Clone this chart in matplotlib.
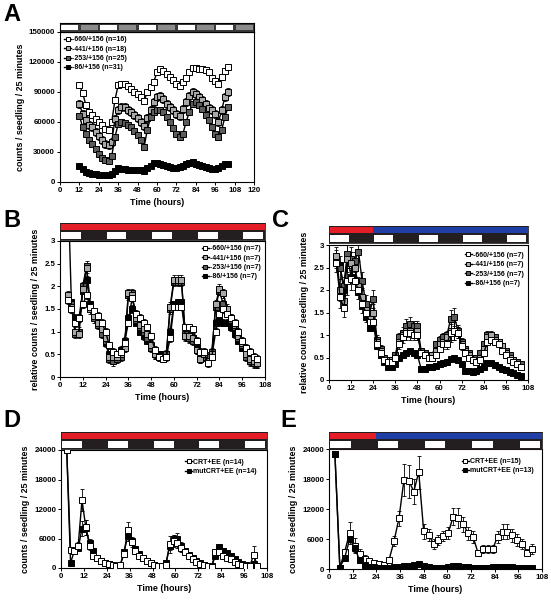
import numpy as np
import matplotlib
matplotlib.use("Agg")
import matplotlib.pyplot as plt
from matplotlib.patches import Rectangle
from matplotlib.ticker import FuncFormatter, MultipleLocator

plt.rcParams['font.family'] = ['Liberation Sans', 'DejaVu Sans']
plt.rcParams['font.weight'] = 'bold'

W, H = 551, 600

# ---------------- data ----------------
tA = np.arange(12, 105, 2)
A_660 = [97000, 89000, 77000, 70000, 67000, 63000, 60000, 57000, 53000, 52000,
         60000, 82000, 97000, 98000, 98000, 96000, 93000, 90000, 88000, 85000,
         81000, 90000, 95000, 100000, 110000, 113000, 111000, 108000, 105000, 102000,
         98000, 96000, 100000, 104000, 110000, 114000, 114000, 113000, 113000, 112000,
         110000, 104000, 101000, 98000, 105000, 111000, 115000]
A_441 = [78000, 68000, 62000, 57000, 55000, 50000, 46000, 42000, 38000, 37000,
         40000, 63000, 72000, 75000, 75000, 72000, 70000, 67000, 64000, 60000,
         56000, 64000, 72000, 80000, 85000, 86000, 83000, 78000, 75000, 72000,
         68000, 66000, 73000, 80000, 86000, 90000, 88000, 85000, 82000, 78000,
         74000, 72000, 68000, 60000, 72000, 85000, 90000]
A_253 = [66000, 55000, 48000, 42000, 38000, 33000, 28000, 24000, 22000, 21000,
         26000, 45000, 58000, 60000, 59000, 57000, 55000, 51000, 47000, 42000,
         35000, 52000, 65000, 70000, 72000, 72000, 70000, 65000, 60000, 54000,
         48000, 45000, 48000, 60000, 70000, 78000, 80000, 77000, 73000, 67000,
         62000, 55000, 48000, 45000, 52000, 65000, 75000]
A_86 = [16000, 13000, 10000, 9000, 8000, 8000, 7000, 7000, 7000, 7000,
        8000, 11000, 14000, 13000, 13000, 12000, 12000, 12000, 12000, 12000,
        11000, 14000, 16000, 19000, 19000, 18000, 17000, 16000, 15000, 14000,
        14000, 15000, 16000, 18000, 19000, 20000, 18000, 17000, 16000, 15000,
        14000, 13000, 13000, 14000, 16000, 18000, 18000]
A_err = [2500, 4000, 2500, 800]
A_labels = ['-660/+156 (n=16)', '-441/+156 (n=18)', '-253/+156 (n=25)', '-86/+156 (n=31)']

tB = np.arange(4, 105, 2)
B_660 = [1.7, 1.5, 1.2, 1.3, 1.6, 1.8, 1.55, 1.45, 1.35, 1.2,
         1.0, 0.7, 0.55, 0.5, 0.55, 0.75, 1.2, 1.75, 1.4, 1.3,
         1.2, 1.1, 0.9, 0.6, 0.45, 0.4, 0.45, 0.85, 1.55, 1.55,
         1.55, 1.1, 1.1, 1.05, 0.8, 0.55, 0.55, 0.3, 0.45, 1.0,
         1.4, 1.5, 1.4, 1.3, 1.2, 1.0, 0.8, 0.65, 0.55, 0.45, 0.4]
B_441 = [1.8, 1.55, 1.0, 0.95, 1.95, 2.4, 1.5, 1.35, 1.2, 1.05,
         0.85, 0.45, 0.45, 0.45, 0.5, 0.65, 1.85, 1.8, 1.3, 1.15,
         1.05, 0.95, 0.7, 0.5, 0.45, 0.45, 0.45, 1.55, 2.15, 2.15,
         2.15, 0.9, 0.9, 0.85, 0.6, 0.4, 0.5, 0.35, 0.5, 1.6,
         1.95, 1.85, 1.5, 1.3, 1.15, 0.9, 0.75, 0.5, 0.4, 0.35, 0.3]
B_253 = [1.75, 1.6, 0.95, 1.0, 2.0, 2.45, 1.55, 1.3, 1.15, 0.95,
         0.8, 0.4, 0.35, 0.4, 0.45, 0.7, 1.8, 1.85, 1.25, 1.1,
         1.0, 0.85, 0.65, 0.5, 0.45, 0.45, 0.5, 1.5, 2.1, 2.1,
         2.1, 0.95, 0.85, 0.8, 0.6, 0.4, 0.45, 0.45, 0.55, 1.55,
         1.9, 1.6, 1.45, 1.25, 1.1, 0.85, 0.7, 0.45, 0.35, 0.3, 0.3]
B_86 = [4.5, 1.65, 1.3, 1.3, 1.9, 2.15, 1.6, 1.4, 1.2, 1.0,
        0.75, 0.5, 0.5, 0.5, 0.6, 0.8, 1.3, 1.5, 1.2, 1.0,
        0.9, 0.8, 0.65, 0.5, 0.5, 0.5, 0.5, 1.0, 1.6, 1.65,
        1.65, 0.9, 0.85, 0.85, 0.7, 0.4, 0.5, 0.4, 0.5, 1.2,
        1.25, 1.2, 1.2, 1.1, 0.95, 0.8, 0.65, 0.45, 0.35, 0.3, 0.3]
B_err = [0.08, 0.1, 0.1, 0.08]
B_labels = ['-660/+156 (n=7)', '-441/+156 (n=7)', '-253/+156 (n=7)', '-86/+156 (n=7)']

tC = np.arange(4, 105, 2)
C_660 = [2.6, 1.85, 1.6, 2.2, 2.25, 2.2, 2.0, 1.7, 1.5, 1.3,
         1.3, 0.8, 0.6, 0.45, 0.4, 0.4, 0.5, 0.8, 0.95, 1.05,
         1.05, 1.0, 1.0, 0.6, 0.55, 0.5, 0.5, 0.55, 0.7, 0.8,
         0.8, 1.05, 1.1, 1.05, 0.75, 0.6, 0.5, 0.45, 0.4, 0.45,
         0.6, 0.85, 0.9, 0.85, 0.8, 0.65, 0.55, 0.45, 0.4, 0.35, 0.3]
C_441 = [2.75, 2.0, 1.75, 2.7, 2.6, 2.5, 2.1, 1.85, 1.55, 1.4,
         1.5, 0.85, 0.65, 0.45, 0.45, 0.45, 0.5, 0.85, 1.0, 1.1,
         1.1, 1.05, 1.1, 0.6, 0.55, 0.5, 0.55, 0.65, 0.8, 0.85,
         0.95, 1.1, 1.1, 1.05, 0.8, 0.65, 0.55, 0.45, 0.4, 0.5,
         0.7, 0.95, 1.0, 0.9, 0.85, 0.75, 0.6, 0.5, 0.45, 0.35, 0.3]
C_253 = [2.7, 2.5, 2.1, 2.8, 2.7, 2.65, 2.85, 2.2, 1.7, 1.5,
         1.8, 0.9, 0.7, 0.5, 0.45, 0.45, 0.55, 0.95, 1.05, 1.2,
         1.25, 1.2, 1.2, 0.65, 0.6, 0.55, 0.55, 0.8, 0.9, 0.95,
         1.0, 1.35, 1.4, 1.1, 0.85, 0.7, 0.6, 0.5, 0.5, 0.6,
         0.8, 1.0, 0.95, 0.95, 0.85, 0.75, 0.65, 0.55, 0.45, 0.4, 0.35]
C_86 = [2.7, 2.55, 2.0, 2.75, 2.3, 2.5, 1.95, 1.65, 1.4, 1.15,
        1.3, 0.75, 0.55, 0.4, 0.3, 0.3, 0.35, 0.5, 0.55, 0.6,
        0.65, 0.6, 0.55, 0.25, 0.25, 0.28, 0.3, 0.32, 0.35, 0.38,
        0.4, 0.47, 0.48, 0.45, 0.35, 0.2, 0.2, 0.18, 0.2, 0.25,
        0.3, 0.37, 0.37, 0.33, 0.3, 0.25, 0.22, 0.18, 0.15, 0.12, 0.1]
C_err = [0.2, 0.25, 0.2, 0.3, 0.25, 0.2, 0.2, 0.2, 0.2, 0.2,
         0.2, 0.1, 0.08, 0.05, 0.05, 0.05, 0.06, 0.1, 0.12, 0.15,
         0.15, 0.12, 0.12, 0.06, 0.05, 0.05, 0.05, 0.06, 0.08, 0.1,
         0.1, 0.2, 0.2, 0.12, 0.08, 0.06, 0.05, 0.05, 0.05, 0.05,
         0.06, 0.08, 0.08, 0.07, 0.06, 0.05, 0.05, 0.05, 0.05, 0.05, 0.05]
C_err_black = 0.03

tD = np.arange(3, 104, 2)
D_crt = [24000, 3600, 3500, 4500, 13800, 8300, 4500, 2500, 2000, 1500,
         1000, 900, 600, 500, 600, 2800, 7800, 5200, 3500, 2500,
         2000, 1500, 1000, 700, 500, 400, 600, 4800, 5500, 5000,
         4000, 3200, 2500, 1800, 1300, 900, 700, 400, 300, 3200,
         3200, 2500, 2000, 1800, 1200, 900, 600, 500, 400, 2700, 400]
D_mut = [24000, 1000, 3500, 4000, 8000, 8200, 5000, 3500, 2000, 1500,
         1000, 800, 400, 400, 500, 3200, 6500, 5500, 3800, 2800,
         2000, 1500, 1000, 600, 400, 400, 1000, 4500, 5800, 6000,
         4500, 3500, 2600, 2000, 1500, 1000, 700, 400, 400, 2500,
         4200, 3500, 3000, 2500, 1800, 1300, 900, 700, 500, 800, 300]
D_crt_err = [0, 500, 600, 800, 2200, 1500, 800, 500, 400, 300,
             300, 250, 200, 200, 200, 600, 1500, 1000, 600, 400,
             300, 300, 200, 200, 150, 150, 200, 1800, 1200, 1000,
             700, 500, 400, 300, 250, 200, 150, 150, 150, 700,
             600, 500, 400, 300, 250, 200, 150, 150, 150, 1700, 200]
D_mut_err = [0, 200, 500, 600, 1500, 1500, 900, 600, 400, 300,
             250, 200, 150, 150, 150, 600, 1000, 900, 600, 400,
             300, 300, 200, 150, 150, 150, 200, 800, 1000, 1100,
             800, 600, 400, 300, 250, 200, 150, 150, 150, 500,
             600, 500, 400, 400, 300, 250, 200, 150, 150, 200, 100]
D_labels = ['CRT+EE (n=14)', 'mutCRT+EE (n=14)']

tE = np.arange(3, 104, 2.5)
E_crt = [23000, 300, 3500, 7300, 4700, 3100, 2100, 1700, 1300, 1000,
         900, 1900, 5600, 10200, 17800, 17600, 15500, 19400, 7600, 6800,
         5100, 5800, 6600, 7300, 10500, 10200, 9000, 7200, 6500, 3300,
         4000, 4000, 4000, 6500, 7500, 7500, 6800, 5800, 5100, 3300, 4100]
E_mut = [23000, 300, 2300, 6000, 4200, 1800, 800, 500, 400, 300,
         300, 300, 400, 500, 600, 700, 800, 1000, 600, 400,
         300, 300, 300, 400, 700, 600, 500, 400, 300, 300,
         300, 300, 400, 400, 500, 500, 400, 300, 300, 300, 200]
E_crt_err = [0, 200, 600, 2200, 1500, 1000, 700, 500, 400, 300,
             300, 500, 1000, 1500, 3200, 3300, 2500, 3300, 1500, 1200,
             1000, 1000, 1000, 1200, 1700, 2000, 1500, 1300, 1200, 600,
             800, 800, 800, 1200, 1500, 1500, 1300, 1200, 1000, 700, 1000]
E_mut_err = [0, 100, 300, 600, 800, 500, 200, 150, 100, 100,
             100, 100, 100, 100, 150, 150, 150, 200, 150, 100,
             100, 100, 100, 100, 150, 150, 100, 100, 100, 100,
             100, 100, 100, 100, 100, 100, 100, 100, 100, 100, 100]
E_labels = ['CRT+EE (n=15)', 'mutCRT+EE (n=13)']

# light schedule (12 h blocks) and light quality
A_blocks = ['W', 'G', 'W', 'G', 'W', 'G', 'W', 'G', 'W', 'G']
LD_blocks = ['W', 'K', 'W', 'K', 'W', 'K', 'W', 'K', 'W']
cond_red_only = [('red', 0, 108)]
cond_red_blue = [('red', 0, 24), ('blue', 24, 108)]

# ---------------- styling ----------------
fills4 = ['white', '#a8a8a8', '#5c5c5c', 'black']
COL = {'W': 'white', 'G': '#8c8c8c', 'K': '#231f20',
       'red': '#e31e26', 'blue': '#1f3ea6'}
TFS = 5.7
LFS = 6.4


def px_axes(fig, x0, y0, x1, y1):
    return fig.add_axes([x0 / W, 1 - y1 / H, (x1 - x0) / W, (y1 - y0) / H])


fig = plt.figure(figsize=(W / 100, H / 100), dpi=100)


def style(ax, xmax, ymax, ystep, fmt=None):
    ax.set_xlim(0, xmax)
    ax.set_ylim(0, ymax)
    ax.xaxis.set_major_locator(MultipleLocator(12))
    ax.yaxis.set_major_locator(MultipleLocator(ystep))
    if fmt:
        ax.yaxis.set_major_formatter(FuncFormatter(fmt))
    ax.tick_params(labelsize=TFS, length=2, width=0.7, pad=1.5, direction='out')
    for lab in ax.get_xticklabels() + ax.get_yticklabels():
        lab.set_fontweight('bold')
    for s in ax.spines.values():
        s.set_linewidth(0.8)


def plot_series(ax, t, ys, errs, fills, labels, ms=3.7):
    handles = []
    for y, e, f, lab in zip(ys, errs, fills, labels):
        ax.errorbar(t, y, yerr=e, fmt='none', ecolor='black', elinewidth=0.6,
                    capsize=1.3, capthick=0.6, zorder=2)
        h, = ax.plot(t, y, '-', color='black', lw=1.0, marker='s', ms=ms,
                     mfc=f, mec='black', mew=0.7, zorder=3, label=lab)
        handles.append(h)
    return handles


def strip_A(x0, x1, y0, y1, xmax):
    ax = px_axes(fig, x0, y0, x1, y1)
    ax.set_xlim(0, xmax)
    ax.set_ylim(0, 1)
    ax.set_facecolor('#3a3a3a')
    for i, b in enumerate(A_blocks):
        ax.add_patch(Rectangle((i * 12 + 0.8, 0.18), 12 - 1.6, 0.64, fc=COL[b], ec='none'))
    ax.set_xticks([]); ax.set_yticks([])
    for s in ax.spines.values():
        s.set_linewidth(0.8)


def strip_LD(x0, x1, y0, ymid, y1, cond):
    ax = px_axes(fig, x0, y0, x1, y1)
    ax.set_xlim(0, 108)
    tot = y1 - y0
    ld = (y1 - ymid) / tot
    ax.set_ylim(0, 1)
    ax.set_facecolor(COL['K'])
    for i, b in enumerate(LD_blocks):
        if b == 'W':
            ax.add_patch(Rectangle((i * 12 + 0.6, 0.12 * ld), 12 - 1.6, 0.72 * ld,
                                   fc='white', ec='none'))
    for c, a, b in cond:
        ax.add_patch(Rectangle((a, ld + 0.02), b - a, 1 - ld - 0.1, fc=COL[c], ec='none'))
    ax.set_xticks([]); ax.set_yticks([])
    for s in ax.spines.values():
        s.set_linewidth(0.6)
        s.set_color(COL['K'])


def xlabel(ax, text):
    ax.set_xlabel(text, fontsize=LFS, fontweight='bold', labelpad=3)


def ylabel(ax, text):
    ax.set_ylabel(text, fontsize=LFS, fontweight='bold', labelpad=3)


def legend(ax, handles, loc, anchor):
    leg = ax.legend(handles=handles, loc=loc, bbox_to_anchor=anchor, frameon=False,
                    fontsize=5.0, handlelength=1.0, handletextpad=0.15,
                    labelspacing=0.35, borderaxespad=0.2, markerscale=0.95)
    for txt in leg.get_texts():
        txt.set_fontweight('bold')


fmt_g = lambda v, p: '%g' % v
fmt_i = lambda v, p: '%d' % v

# ---------------- Panel A ----------------
axA = px_axes(fig, 60, 32, 254, 182)
hA = plot_series(axA, tA, [A_660, A_441, A_253, A_86], A_err, fills4, A_labels)
style(axA, 120, 150000, 30000, fmt_i)
xlabel(axA, 'Time (hours)')
ylabel(axA, 'counts / seedling / 25 minutes')
legend(axA, hA, 'upper left', (0.0, 1.0))
strip_A(60, 254, 23, 32, 120)

# ---------------- Panel B ----------------
axB = px_axes(fig, 60, 241, 265, 377)
order = [3, 2, 1, 0]
ysB = [B_660, B_441, B_253, B_86]
hB = [None] * 4
for i in order:
    hB[i] = plot_series(axB, tB, [ysB[i]], [B_err[i]], [fills4[i]], [B_labels[i]])[0]
style(axB, 108, 3, 0.5, fmt_g)
xlabel(axB, 'Time (hours)')
ylabel(axB, 'relative counts / seedling / 25 minutes')
legend(axB, hB, 'upper right', (1.0, 1.0))
strip_LD(60, 265, 223, 230, 240, cond_red_only)

# ---------------- Panel C ----------------
axC = px_axes(fig, 329, 245, 528, 380)
ysC = [C_660, C_441, C_253, C_86]
errsC = [C_err, C_err, C_err, C_err_black]
hC = [None] * 4
for i in order:
    hC[i] = plot_series(axC, tC, [ysC[i]], [errsC[i]], [fills4[i]], [B_labels[i]])[0]
style(axC, 108, 3, 0.5, fmt_g)
xlabel(axC, 'Time (hours)')
ylabel(axC, 'relative counts / seedling / 25 minutes')
legend(axC, hC, 'upper right', (1.0, 0.98))
strip_LD(329, 528, 226, 233, 243, cond_red_blue)

# ---------------- Panel D ----------------
axD = px_axes(fig, 61, 450, 267, 568)
hD2 = plot_series(axD, tD, [D_mut], [D_mut_err], ['black'], [D_labels[1]])
hD1 = plot_series(axD, tD, [D_crt], [D_crt_err], ['white'], [D_labels[0]])
style(axD, 108, 24000, 6000, fmt_i)
xlabel(axD, 'Time (hours)')
ylabel(axD, 'counts / seedling / 25 minutes')
legend(axD, hD1 + hD2, 'upper right', (0.97, 0.96))
strip_LD(61, 267, 432, 439, 449, cond_red_only)

# ---------------- Panel E ----------------
axE = px_axes(fig, 329, 449, 542, 569)
hE1 = plot_series(axE, tE, [E_crt], [E_crt_err], ['white'], [E_labels[0]])
hE2 = plot_series(axE, tE, [E_mut], [E_mut_err], ['black'], [E_labels[1]])
style(axE, 108, 24000, 6000, fmt_i)
xlabel(axE, 'Time (hours)')
ylabel(axE, 'counts / seedling / 25 minutes')
legend(axE, hE1 + hE2, 'upper right', (0.98, 0.96))
strip_LD(329, 542, 432, 439, 449, cond_red_blue)

# panel letters
for letter, x, y in [('A', 3, 3), ('B', 3, 209), ('C', 272, 209), ('D', 3, 409), ('E', 280, 409)]:
    fig.text(x / W, 1 - y / H, letter, fontsize=17, fontweight='bold', va='top', ha='left')

fig.savefig('out.png', dpi=100)
